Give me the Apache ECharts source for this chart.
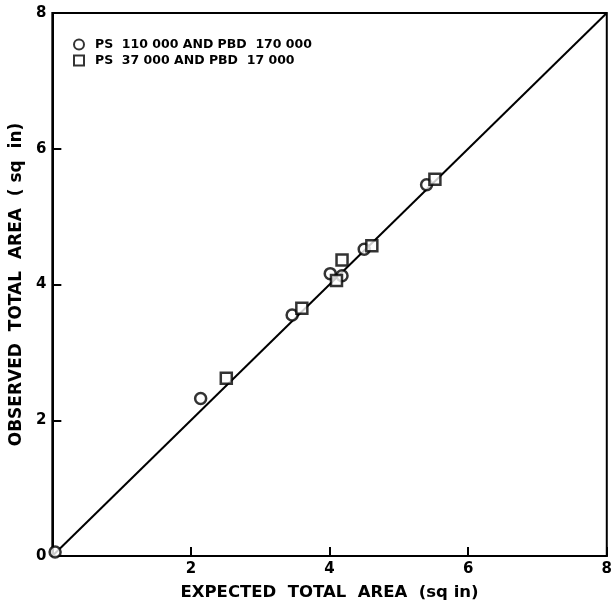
<!DOCTYPE html>
<html>
<head>
<meta charset="utf-8">
<script src="https://cdn.jsdelivr.net/npm/echarts@6/dist/echarts.min.js"></script>
<style>html,body{margin:0;padding:0;background:#fff}#c{width:615px;height:606px}</style>
</head>
<body>
<div id="c"></div>
<script>
// Data (expected, observed), sq in
const seriesNames = ['PS  110 000 AND PBD  170 000', 'PS  37 000 AND PBD  17 000'];
const circlePoints = [[0.04, 0.06], [2.14, 2.32], [3.46, 3.55], [4.01, 4.16], [4.18, 4.13], [4.50, 4.52], [5.40, 5.47]];
const squarePoints = [[2.51, 2.62], [3.60, 3.65], [4.18, 4.36], [4.10, 4.06], [4.61, 4.57], [5.52, 5.55]];
const identityLine = [[0, 0], [8, 8]];
const xTicks = [0, 2, 4, 6, 8];
const yTicks = [0, 2, 4, 6, 8];
const xTitle = 'EXPECTED  TOTAL  AREA  (sq in)';
const yTitle = 'OBSERVED  TOTAL  AREA  ( sq  in)';

const font = 'DejaVu Sans';
const chart = echarts.init(document.getElementById('c'));
chart.setOption({
  animation: false,
  backgroundColor: '#fff',
  grid: { left: 50, right: 5, top: 13, bottom: 41, show: true, borderColor: '#000', borderWidth: 2, backgroundColor: 'transparent' },
  legend: {
    data: seriesNames.map(n => ({ name: n })),
    orient: 'vertical', left: 68, top: 33, itemGap: 3, itemWidth: 10, itemHeight: 10,
    textStyle: { fontFamily: font, fontWeight: 'bold', fontSize: 12.5, color: '#000', padding: [0, 0, 0, 6] }
  },
  xAxis: {
    type: 'value', min: 0, max: 8, interval: 2,
    axisLine: { show: true, lineStyle: { color: '#000', width: 2 } },
    axisTick: { show: true, inside: true, length: 9, lineStyle: { color: '#000', width: 2 } },
    splitLine: { show: false },
    axisLabel: { color: '#000', fontFamily: font, fontWeight: 'bold', fontSize: 15, margin: 6,
      formatter: v => (xTicks.indexOf(v) > 0 ? String(v) : '') },
    name: xTitle, nameLocation: 'middle', nameGap: 28,
    nameTextStyle: { color: '#000', fontFamily: font, fontWeight: 'bold', fontSize: 16.5 }
  },
  yAxis: {
    type: 'value', min: 0, max: 8, interval: 2,
    axisLine: { show: true, lineStyle: { color: '#000', width: 2 } },
    axisTick: { show: true, inside: true, length: 9, lineStyle: { color: '#000', width: 2 } },
    splitLine: { show: false },
    axisLabel: { color: '#000', fontFamily: font, fontWeight: 'bold', fontSize: 15, margin: 6,
      formatter: v => (yTicks.indexOf(v) >= 0 ? String(v) : '') },
    name: yTitle, nameLocation: 'middle', nameGap: 27, nameRotate: 90,
    nameTextStyle: { color: '#000', fontFamily: font, fontWeight: 'bold', fontSize: 17 }
  },
  series: [
    { type: 'line', data: identityLine, symbol: 'none', silent: true,
      lineStyle: { color: '#000', width: 2 }, z: 1 },
    { name: seriesNames[0], type: 'scatter', data: circlePoints, symbol: 'circle', symbolSize: 11,
      itemStyle: { color: '#fff', borderColor: '#000', borderWidth: 2.5 }, z: 3 },
    { name: seriesNames[1], type: 'scatter', data: squarePoints, symbol: 'rect', symbolSize: 11,
      itemStyle: { color: '#fff', borderColor: '#000', borderWidth: 2.5 }, z: 3 }
  ]
});
</script>
</body>
</html>
